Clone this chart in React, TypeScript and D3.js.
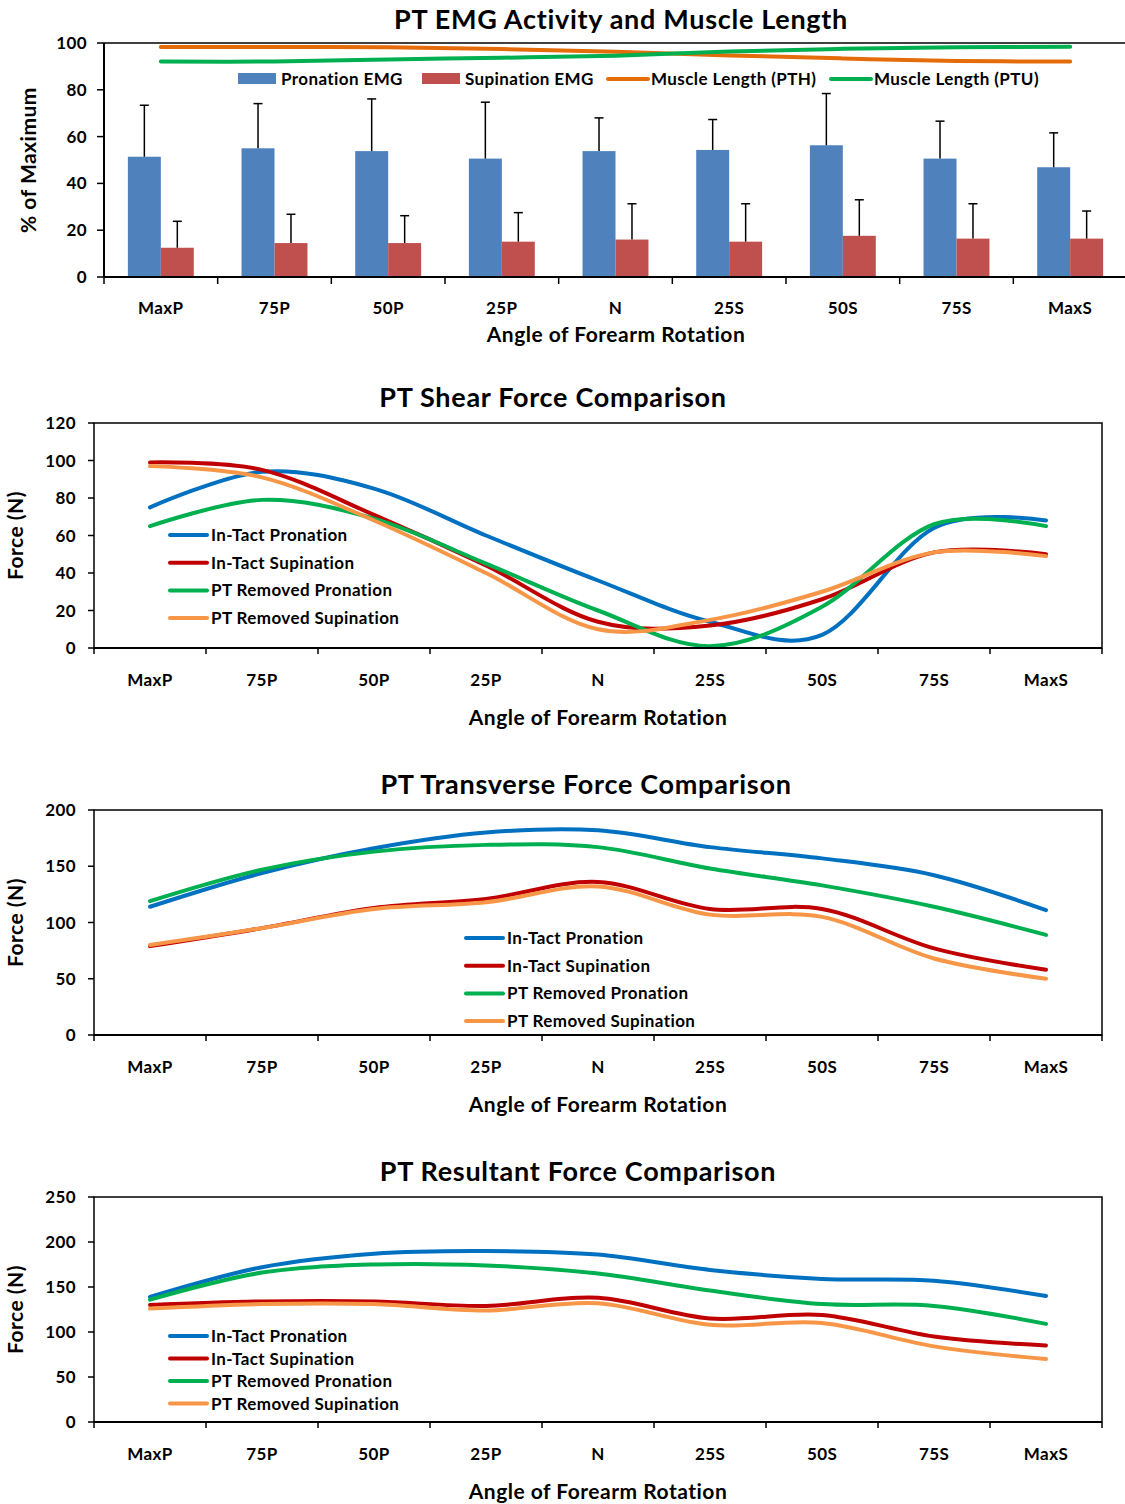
import React from "react";
import * as d3 from "d3";

const categories = ["MaxP", "75P", "50P", "25P", "N", "25S", "50S", "75S", "MaxS"];

// Chart 1: EMG activity (% of max) and muscle length
const pronationEMG = [51.4, 55.0, 53.8, 50.6, 53.8, 54.3, 56.3, 50.6, 46.9];
const pronationEMGTop = [73.4, 74.1, 76.1, 74.7, 68.0, 67.3, 78.4, 66.6, 61.6];
const supinationEMG = [12.5, 14.5, 14.5, 15.1, 16.0, 15.1, 17.6, 16.4, 16.4];
const supinationEMGTop = [23.8, 26.8, 26.2, 27.5, 31.3, 31.3, 33.0, 31.3, 28.2];
const lengthPTH = [98.3, 98.3, 98.2, 97.4, 96.3, 94.7, 93.4, 92.3, 92.1];
const lengthPTU = [92.1, 92.1, 93.0, 93.7, 94.6, 96.4, 97.5, 98.2, 98.4];

// Chart 2: Shear force (N)
const shearIntactPron = [75, 94, 85, 60, 36, 14, 7, 64, 68];
const shearIntactSup = [99, 95, 71, 44, 14, 12, 26, 51, 50];
const shearRemovedPron = [65, 79, 69, 45, 20, 1, 22, 66, 65];
const shearRemovedSup = [97, 91, 68, 40, 10, 15, 30, 51, 49];

// Chart 3: Transverse force (N)
const transIntactPron = [114, 144, 166, 180, 182, 167, 157, 142, 111];
const transIntactSup = [79, 95, 113, 121, 136, 112, 112, 77, 58];
const transRemovedPron = [119, 147, 163, 169, 167, 148, 133, 114, 89];
const transRemovedSup = [80, 95, 112, 118, 132, 107, 105, 68, 50];

// Chart 4: Resultant force (N)
const resIntactPron = [139, 172, 187, 190, 186, 169, 159, 157, 140];
const resIntactSup = [130, 134, 134, 129, 138, 115, 119, 95, 85];
const resRemovedPron = [136, 166, 175, 174, 165, 146, 131, 129, 109];
const resRemovedSup = [126, 131, 131, 124, 132, 108, 110, 84, 70];

const legendNames = ["In-Tact Pronation", "In-Tact Supination", "PT Removed Pronation", "PT Removed Supination"];
const lineColors = ["#0070C0", "#C00000", "#00B050", "#F79646"];

const FONT = "Lato, 'Open Sans', sans-serif";
const TITLE = { fontSize: 27, letterSpacing: 0.7 };
const AXT = { fontSize: 21, letterSpacing: 0.5 };
const LEG = { fontSize: 17, letterSpacing: 0.4 };
const TICK = { fontSize: 17, letterSpacing: 0.4 };

function EMGChart() {
  const left = 104, right = 1127, top = 43, bottom = 277;
  const x = d3.scaleBand().domain(categories).range([left, right]);
  const y = d3.scaleLinear().domain([0, 100]).range([bottom, top]);
  const bw = x.bandwidth() * 0.29;
  const yTicks = d3.range(0, 101, 20);
  const line = d3
    .line<number>()
    .x((_, i) => (x(categories[i]) as number) + x.bandwidth() / 2)
    .y((d) => y(d))
    .curve(d3.curveCardinal);
  const legend = [
    { type: "rect", color: "#4F81BD", label: "Pronation EMG", x: 238 },
    { type: "rect", color: "#C0504D", label: "Supination EMG", x: 422 },
    { type: "line", color: "#E46C0A", label: "Muscle Length (PTH)", x: 608 },
    { type: "line", color: "#00B050", label: "Muscle Length (PTU)", x: 831 },
  ];
  return (
    <g>
      <text x={621} y={29} textAnchor="middle" {...TITLE} fontWeight="bold" fontFamily={FONT}>
        PT EMG Activity and Muscle Length
      </text>
      {categories.map((c, i) => {
        const cx = (x(c) as number) + x.bandwidth() / 2;
        return (
          <g key={c}>
            <rect x={cx - bw} y={y(pronationEMG[i])} width={bw} height={bottom - y(pronationEMG[i])} fill="#4F81BD" />
            <rect x={cx} y={y(supinationEMG[i])} width={bw} height={bottom - y(supinationEMG[i])} fill="#C0504D" />
            <line x1={cx - bw / 2} x2={cx - bw / 2} y1={y(pronationEMG[i])} y2={y(pronationEMGTop[i])} stroke="#000" strokeWidth={1.5} />
            <line x1={cx - bw / 2 - 4.5} x2={cx - bw / 2 + 4.5} y1={y(pronationEMGTop[i])} y2={y(pronationEMGTop[i])} stroke="#000" strokeWidth={1.5} />
            <line x1={cx + bw / 2} x2={cx + bw / 2} y1={y(supinationEMG[i])} y2={y(supinationEMGTop[i])} stroke="#000" strokeWidth={1.5} />
            <line x1={cx + bw / 2 - 4.5} x2={cx + bw / 2 + 4.5} y1={y(supinationEMGTop[i])} y2={y(supinationEMGTop[i])} stroke="#000" strokeWidth={1.5} />
            <text x={cx} y={314} textAnchor="middle" {...TICK} fontWeight="bold" fontFamily={FONT}>
              {c}
            </text>
          </g>
        );
      })}
      <path d={line(lengthPTH) as string} fill="none" stroke="#E46C0A" strokeWidth={4} strokeLinecap="round" />
      <path d={line(lengthPTU) as string} fill="none" stroke="#00B050" strokeWidth={4} strokeLinecap="round" />
      <line x1={left} x2={1125} y1={top} y2={top} stroke="#000" strokeWidth={1.5} />
      <line x1={left} x2={left} y1={top} y2={bottom} stroke="#000" strokeWidth={2} />
      <line x1={left} x2={1125} y1={bottom} y2={bottom} stroke="#000" strokeWidth={2} />
      {yTicks.map((t) => (
        <g key={t}>
          <line x1={left - 7} x2={left} y1={y(t)} y2={y(t)} stroke="#000" strokeWidth={1.5} />
          <text x={87} y={y(t) + 6} textAnchor="end" {...TICK} fontWeight="bold" fontFamily={FONT}>
            {t}
          </text>
        </g>
      ))}
      {categories.map((c) => (
        <line key={c} x1={x(c) as number} x2={x(c) as number} y1={bottom} y2={bottom + 7} stroke="#000" strokeWidth={1.5} />
      ))}
      <text x={616} y={342} textAnchor="middle" {...AXT} fontWeight="bold" fontFamily={FONT}>
        Angle of Forearm Rotation
      </text>
      <text transform="translate(36,160) rotate(-90)" textAnchor="middle" {...AXT} fontWeight="bold" fontFamily={FONT}>
        % of Maximum
      </text>
      {legend.map((l) => (
        <g key={l.label}>
          {l.type === "rect" ? (
            <rect x={l.x} y={73} width={38} height={11} fill={l.color} />
          ) : (
            <line x1={l.x} x2={l.x + 40} y1={79} y2={79} stroke={l.color} strokeWidth={4} strokeLinecap="round" />
          )}
          <text x={l.x + 43} y={85} {...LEG} fontWeight="bold" fontFamily={FONT}>
            {l.label}
          </text>
        </g>
      ))}
    </g>
  );
}

type LineChartProps = {
  title: string;
  titleX: number;
  top: number;
  yMax: number;
  yStep: number;
  series: number[][];
  legendX: number;
  legendY: number;
  legendDy: number;
};

function LineChart(p: LineChartProps) {
  const left = 94, right = 1102, top = p.top, bottom = p.top + 225;
  const x = d3.scaleBand().domain(categories).range([left, right]);
  const y = d3.scaleLinear().domain([0, p.yMax]).range([bottom, top]);
  const yTicks = d3.range(0, p.yMax + 1, p.yStep);
  const line = d3
    .line<number>()
    .x((_, i) => (x(categories[i]) as number) + x.bandwidth() / 2)
    .y((d) => y(d))
    .curve(d3.curveCardinal);
  const midY = (top + bottom) / 2;
  return (
    <g>
      <text x={p.titleX} y={top - 16} textAnchor="middle" {...TITLE} fontWeight="bold" fontFamily={FONT}>
        {p.title}
      </text>
      {p.series.map((s, i) => (
        <path key={i} d={line(s) as string} fill="none" stroke={lineColors[i]} strokeWidth={4} strokeLinecap="round" />
      ))}
      <rect x={left} y={top} width={right - left} height={bottom - top} fill="none" stroke="#000" strokeWidth={1.5} />
      <line x1={left} x2={right} y1={bottom} y2={bottom} stroke="#000" strokeWidth={2} />
      {yTicks.map((t) => (
        <g key={t}>
          <line x1={left - 6} x2={left} y1={y(t)} y2={y(t)} stroke="#000" strokeWidth={1.5} />
          <text x={76} y={y(t) + 6} textAnchor="end" {...TICK} fontWeight="bold" fontFamily={FONT}>
            {t}
          </text>
        </g>
      ))}
      {categories.map((c) => (
        <line key={c} x1={x(c) as number} x2={x(c) as number} y1={bottom} y2={bottom + 6} stroke="#000" strokeWidth={1.5} />
      ))}
      <line x1={right} x2={right} y1={bottom} y2={bottom + 6} stroke="#000" strokeWidth={1.5} />
      {categories.map((c) => (
        <text key={c} x={(x(c) as number) + x.bandwidth() / 2} y={bottom + 38} textAnchor="middle" {...TICK} fontWeight="bold" fontFamily={FONT}>
          {c}
        </text>
      ))}
      <text x={598} y={bottom + 77} textAnchor="middle" {...AXT} fontWeight="bold" fontFamily={FONT}>
        Angle of Forearm Rotation
      </text>
      <text transform={`translate(23,${midY}) rotate(-90)`} textAnchor="middle" {...AXT} fontWeight="bold" fontFamily={FONT}>
        Force (N)
      </text>
      {legendNames.map((n, i) => (
        <g key={n}>
          <line x1={p.legendX} x2={p.legendX + 37} y1={p.legendY + i * p.legendDy} y2={p.legendY + i * p.legendDy} stroke={lineColors[i]} strokeWidth={4} strokeLinecap="round" />
          <text x={p.legendX + 41} y={p.legendY + i * p.legendDy + 6} {...LEG} fontWeight="bold" fontFamily={FONT}>
            {n}
          </text>
        </g>
      ))}
    </g>
  );
}

export default function App() {
  return (
    <svg width={1125} height={1504} style={{ position: "absolute", left: 0, top: 0, background: "#fff" }}>
      <rect width={1125} height={1504} fill="#fff" />
      <EMGChart />
      <LineChart
        title="PT Shear Force Comparison"
        titleX={553}
        top={423}
        yMax={120}
        yStep={20}
        series={[shearIntactPron, shearIntactSup, shearRemovedPron, shearRemovedSup]}
        legendX={170}
        legendY={535}
        legendDy={27.7}
      />
      <LineChart
        title="PT Transverse Force Comparison"
        titleX={586}
        top={810}
        yMax={200}
        yStep={50}
        series={[transIntactPron, transIntactSup, transRemovedPron, transRemovedSup]}
        legendX={466}
        legendY={938}
        legendDy={27.7}
      />
      <LineChart
        title="PT Resultant Force Comparison"
        titleX={578}
        top={1197}
        yMax={250}
        yStep={50}
        series={[resIntactPron, resIntactSup, resRemovedPron, resRemovedSup]}
        legendX={170}
        legendY={1336}
        legendDy={22.5}
      />
    </svg>
  );
}
